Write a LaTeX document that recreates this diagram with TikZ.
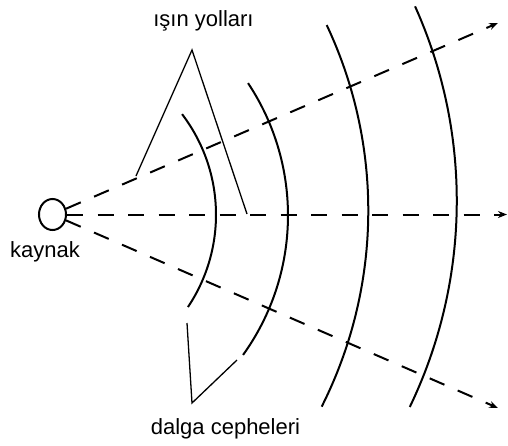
\documentclass[tikz,border=0pt]{standalone}
\usepackage{fontspec}
\setmainfont{Liberation Sans}
\usetikzlibrary{arrows.meta,shapes.geometric}
\begin{document}
\begin{tikzpicture}[x=1pt,y=-1pt,
  ray/.style={line width=2pt, dash pattern=on 16pt off 14.5pt, -{Stealth[length=9pt,width=7pt]}},
  front/.style={line width=2pt},
  pointer/.style={line width=1.3pt},
  lbl/.style={font=\fontsize{22}{24}\selectfont, inner sep=0pt, anchor=base}]
\useasboundingbox (0,0) rectangle (508,445);
% source
\node[ellipse, draw, line width=2pt, minimum width=27pt, minimum height=31pt, inner sep=0pt] (src) at (52.5,214.5) {};
% ray ends
\coordinate (e1) at (498,23);
\coordinate (e2) at (507,214.5);
\coordinate (e3) at (498,408);
\draw[ray] (src) -- (e1);
\draw[ray] (src) -- (e2);
\draw[ray] (src) -- (e3);
% wave fronts
\draw[front] ([shift={(-37.3:166)}]50,214.7) arc[start angle=-37.3, end angle=33.8, radius=166];
\draw[front] ([shift={(-33.6:239.1)}]48.9,215.4) arc[start angle=-33.6, end angle=35.7, radius=239.1];
\draw[front] ([shift={(-25.25:435.2)}]-66.9,210.7) arc[start angle=-25.25, end angle=26.76, radius=435.2];
\draw[front] ([shift={(-24.2:474.9)}]-18.1,201) arc[start angle=-24.2, end angle=25.7, radius=474.9];
% labels
\node[lbl] (t1) at (203.5,26) {ışın yolları};
\node[lbl] (t2) at (45,257) {kaynak};
\node[lbl] (t3) at (225.5,434) {dalga cepheleri};
% pointer lines
\coordinate (pa) at (192,50);
\coordinate (pa1) at (136,176);
\coordinate (pa2) at (247,214);
\coordinate (pb) at (192,403);
\coordinate (pb1) at (187,323);
\coordinate (pb2) at (237,360);
\draw[pointer] (pa1) -- (pa) -- (pa2);
\draw[pointer] (pb1) -- (pb) -- (pb2);
\end{tikzpicture}
\end{document}
